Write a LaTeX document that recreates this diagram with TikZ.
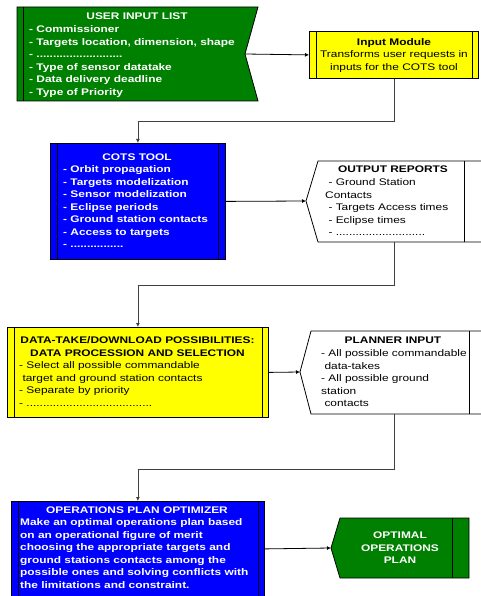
\documentclass[tikz,border=0pt]{standalone}
\usepackage{fontspec}
\setmainfont{Liberation Sans}[FakeStretch=1.24]
\usetikzlibrary{arrows.meta,positioning,calc}
\definecolor{listgreen}{RGB}{0,128,0}
\definecolor{toolblue}{RGB}{0,0,255}
\definecolor{modyellow}{RGB}{255,255,0}

\begin{document}
\begin{tikzpicture}[x=1pt,y=-1pt,
  every node/.style={inner sep=0pt,font=\fontsize{9.6pt}{12.5pt}\selectfont},
  box/.style={draw,line width=0.8pt,rectangle,anchor=north west},
  conn/.style={draw=black!75,line width=0.8pt,-{Latex[length=4pt,width=4pt]}},
  title/.style={anchor=north,align=center,font=\fontsize{9.6pt}{12.5pt}\selectfont\bfseries},
  list/.style={anchor=north west,align=left},
  blist/.style={list,font=\fontsize{9.6pt}{12.5pt}\selectfont\bfseries}]
  \useasboundingbox (0,0) rectangle (481,596);

    % user input list
    \filldraw[fill=listgreen,line width=0.8pt] (17,7) -- (258,7) -- (245,54) coordinate (uil-e)
      -- (258,101) -- (17,101) -- cycle;
    \draw[line width=0.8pt] (23,7) -- (23,101);
    \node[title,text=white] (uil-t) at (137,12.5) {USER INPUT LIST};
    \node[blist,text=white] (uil-l) at (29,25.8) {- Commissioner\\- Targets location, dimension, shape\\
      - ..........................\\- Type of sensor datatake\\- Data delivery deadline\\- Type of Priority};

    % input module
    \node[box,fill=modyellow,minimum width=169pt,minimum height=47pt] (im) at (309,31) {};
    \draw ([xshift=7pt]im.north west) -- ([xshift=7pt]im.south west);
    \draw ([xshift=-7pt]im.north east) -- ([xshift=-7pt]im.south east);
    \node[anchor=north,align=center] (im-t) at (394,38) {\textbf{Input Module}\\Transforms user requests in\\inputs for the COTS tool};

    % cots tool
    \node[box,fill=toolblue,minimum width=175pt,minimum height=116pt] (cots) at (50,143) {};
    \draw ([xshift=7.5pt]cots.north west) -- ([xshift=7.5pt]cots.south west);
    \draw ([xshift=-7.5pt]cots.north east) -- ([xshift=-7.5pt]cots.south east);
    \node[title,text=white] (cots-t) at (137,153.5) {COTS TOOL};
    \node[blist,text=white] (cots-l) at (63,165.8) {- Orbit propagation\\- Targets modelization\\- Sensor modelization\\
      - Eclipse periods\\- Ground station contacts\\- Access to targets\\- ................};

    % output reports
    \filldraw[fill=white,line width=0.8pt] (486,161) -- (318,161) -- (306,201) coordinate (out-w)
      -- (318,242) -- (486,242);
    \draw[line width=0.8pt] (464,161) -- (464,242);
    \coordinate (out-s) at (394,242);
    \node[title] (out-t) at (393,165.5) {OUTPUT REPORTS};
    \node[list] (out-l) at (325,178.8) {\ - Ground Station\\Contacts\\\ - Targets Access times\\
      \ - Eclipse times\\\ - ...........................};

    % data-take / download possibilities
    \node[box,fill=modyellow,minimum width=261pt,minimum height=90pt] (dt) at (7,327) {};
    \draw ([xshift=7pt]dt.north west) -- ([xshift=7pt]dt.south west);
    \draw ([xshift=-6.5pt]dt.north east) -- ([xshift=-6.5pt]dt.south east);
    \node[title] (dt-t) at (137.5,336.5) {DATA-TAKE/DOWNLOAD POSSIBILITIES:\\DATA PROCESSION AND SELECTION};
    \node[list] (dt-l) at (19,361.5) {- Select all possible commandable\\\ target and ground station contacts\\
      - Separate by priority\\- ......................................};

    % planner input
    \filldraw[fill=white,line width=0.8pt] (486,331) -- (311,331) -- (300,372) coordinate (pi-w)
      -- (311,414) -- (486,414);
    \draw[line width=0.8pt] (469.5,331) -- (469.5,414);
    \coordinate (pi-s) at (394,414);
    \node[title] (pi-t) at (393,336.5) {PLANNER INPUT};
    \node[list] (pi-l) at (321,349.5) {- All possible commandable\\\ data-takes\\- All possible ground\\
      station\\\ contacts};

    % operations plan optimizer
    \node[box,fill=toolblue,minimum width=253pt,minimum height=95pt] (opo) at (11,501) {};
    \draw ([xshift=7pt]opo.north west) -- ([xshift=7pt]opo.south west);
    \draw ([xshift=-7pt]opo.north east) -- ([xshift=-7pt]opo.south east);
    \node[title,text=white] (opo-t) at (137,506.5) {OPERATIONS PLAN OPTIMIZER};
    \node[blist,text=white] (opo-l) at (20,518.5) {Make an optimal operations plan based\\
      on an operational figure of merit\\choosing the appropriate targets and\\
      ground stations contacts among the\\possible ones and solving conflicts with\\
      the limitations and constraint.};

    % optimal operations plan
    \filldraw[fill=listgreen,line width=0.8pt] (469,518) -- (340,518) -- (331,548) coordinate (oop-w)
      -- (340,578) -- (469,578) -- cycle;
    \draw[line width=0.8pt] (452,518) -- (452,578);
    \node[title,text=white] (oop-t) at (400,531.8) {OPTIMAL\\OPERATIONS\\PLAN};

    % connectors
    \draw[conn,draw=black] (uil-e) -- (im.west);
    \draw[conn] (im.south) -- (im.south |- 0,121) -| (cots.north);
    \draw[conn,draw=black] (cots.east) -- (out-w);
    \draw[conn] (out-s) -- (out-s |- 0,285) -| (dt.north);
    \draw[conn,draw=black] (dt.east) -- (pi-w);
    \draw[conn] (pi-s) -- (pi-s |- 0,469) -| (opo.north);
    \draw[conn,draw=black] (opo.east) -- (oop-w);
\end{tikzpicture}
\end{document}
